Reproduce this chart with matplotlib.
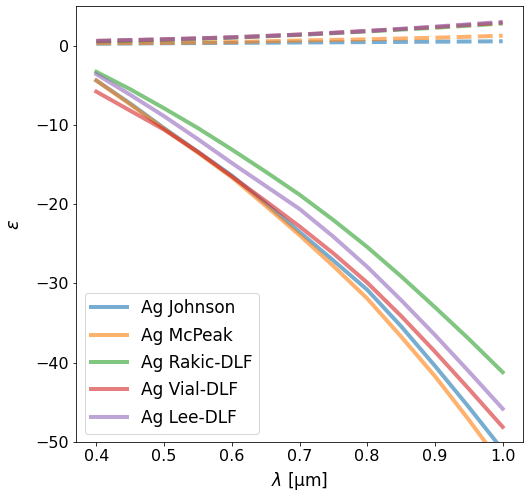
import numpy as np
import matplotlib
matplotlib.use('Agg')
import matplotlib.pyplot as plt

# wavelength in um
lam = [0.4, 0.45, 0.5, 0.55, 0.6, 0.65, 0.7, 0.75, 0.8, 0.85, 0.9, 0.95, 1.0]

labels = ['Ag Johnson', 'Ag McPeak', 'Ag Rakic-DLF', 'Ag Vial-DLF', 'Ag Lee-DLF']

# real part of permittivity
re_johnson = [-4.4, -7.3, -10.4, -13.4, -16.4, -19.9, -23.5, -27.1, -30.8, -35.4, -40.4, -45.6, -51.0]
re_mcpeak = [-4.4, -7.4, -10.5, -13.5, -16.6, -20.2, -23.9, -27.8, -31.9, -36.7, -41.7, -47.2, -53.0]
re_rakic = [-3.3, -5.5, -7.9, -10.4, -13.1, -15.9, -18.8, -22.0, -25.4, -29.1, -33.0, -37.0, -41.2]
re_vial = [-5.8, -8.2, -10.6, -13.4, -16.5, -19.6, -22.8, -26.2, -29.9, -34.1, -38.6, -43.3, -48.1]
re_lee = [-3.6, -6.2, -8.9, -11.8, -14.8, -17.7, -20.6, -24.1, -27.9, -32.1, -36.5, -41.1, -45.8]

# imaginary part of permittivity
im_johnson = [0.25, 0.27, 0.3, 0.32, 0.35, 0.37, 0.4, 0.42, 0.45, 0.47, 0.5, 0.52, 0.55]
im_mcpeak = [0.3, 0.32, 0.35, 0.4, 0.45, 0.55, 0.65, 0.72, 0.8, 0.9, 1.0, 1.12, 1.25]
im_rakic = [0.55, 0.65, 0.75, 0.87, 1.0, 1.17, 1.35, 1.57, 1.8, 2.02, 2.25, 2.52, 2.8]
im_vial = [0.6, 0.7, 0.8, 0.92, 1.05, 1.22, 1.4, 1.62, 1.85, 2.1, 2.35, 2.62, 2.9]
im_lee = [0.6, 0.7, 0.8, 0.92, 1.05, 1.22, 1.4, 1.62, 1.85, 2.12, 2.4, 2.7, 3.0]

re_all = [re_johnson, re_mcpeak, re_rakic, re_vial, re_lee]
im_all = [im_johnson, im_mcpeak, im_rakic, im_vial, im_lee]
colors = ['tab:blue', 'tab:orange', 'tab:green', 'tab:red', 'tab:purple']

plt.rcParams['font.size'] = 16

fig = plt.figure(figsize=(529 / 72, 503 / 72), dpi=72)
ax = fig.add_axes([76 / 529, 1 - 442 / 503, (523 - 76) / 529, (442 - 6) / 503])

for re, c, lab in zip(re_all, colors, labels):
    ax.plot(lam, re, color=c, lw=4, alpha=0.6, label=lab)
for im, c in zip(im_all, colors):
    ax.plot(lam, im, '--', color=c, lw=4, alpha=0.6)

ax.set_ylim(-50, 5)
ax.set_xlabel(r'$\lambda$ [µm]', fontsize=17, labelpad=6)
ax.set_ylabel(r'$\epsilon$', fontsize=18, labelpad=12)
ax.legend(loc='lower left', fontsize=17, labelspacing=0.55, handlelength=2.1)

fig.savefig('out.png', dpi=72)
